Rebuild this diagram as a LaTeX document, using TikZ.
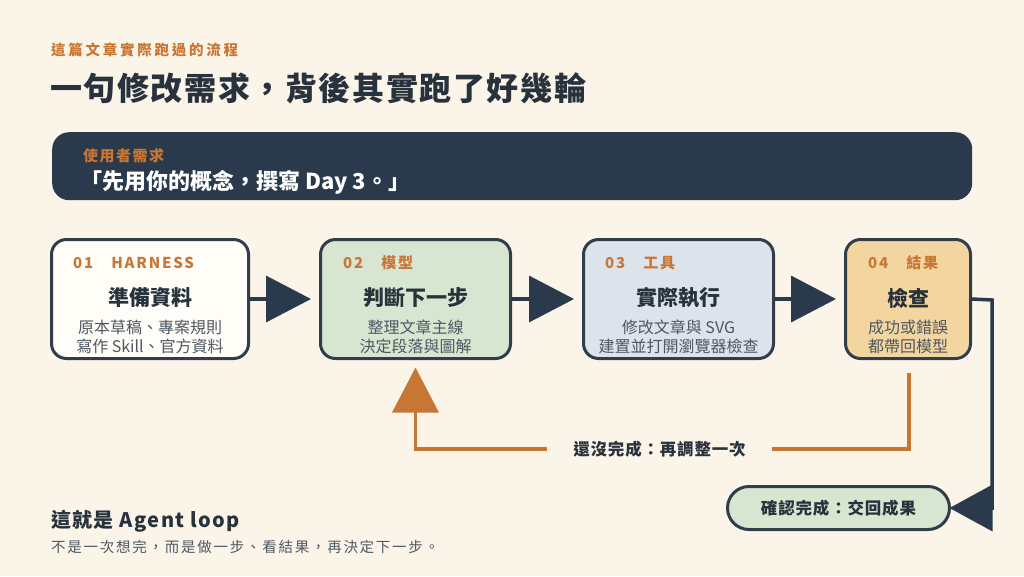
\documentclass[tikz,border=0pt]{standalone}
\usepackage{fontspec}
\setmainfont{Noto Sans CJK TC}
\usetikzlibrary{arrows.meta}
\definecolor{bg}{HTML}{FBF4E9}
\definecolor{navy}{HTML}{2A3A4C}
\definecolor{edge}{HTML}{313D4A}
\definecolor{ink}{HTML}{28323D}
\definecolor{gray}{HTML}{4E5862}
\definecolor{accent}{HTML}{C87634}
\definecolor{fone}{HTML}{FFFDF7}
\definecolor{ftwo}{HTML}{D8E5D1}
\definecolor{fthree}{HTML}{DCE3EB}
\definecolor{ffour}{HTML}{F3D59F}
\newcommand{\fs}[2]{\fontsize{#1}{#2}\selectfont}
\tikzset{
  txt/.style={inner sep=0pt},
  box/.style={draw=edge, line width=3pt, rounded corners=15pt, minimum height=119pt, inner sep=0pt},
  lbl/.style={txt, anchor=west, text=accent, font=\fs{15}{18}\bfseries\addfontfeature{LetterSpace=12}},
  ttl/.style={txt, text=ink, font=\fs{21}{25}\bfseries},
  desc/.style={txt, text=gray, align=center, font=\fs{16}{19}\selectfont},
  dline/.style={draw=navy, line width=3.5pt, -{Triangle[length=45pt,width=46pt]}, shorten >=8pt},
  oline/.style={draw=accent, line width=3.5pt},
}
\begin{document}
\begin{tikzpicture}[x=1pt,y=-1pt]
\fill[bg] (0,0) rectangle (1024,576);
\useasboundingbox (0,0) rectangle (1024,576);

% header
\node[txt, anchor=west, text=accent, font=\fs{14.5}{17}\bfseries\addfontfeature{LetterSpace=19}] (kicker) at (51,50) {這篇文章實際跑過的流程};
\node[txt, anchor=west, text=ink, font=\fs{32}{38}\bfseries\addfontfeature{LetterSpace=5}] (title) at (50,88) {一句修改需求，背後其實跑了好幾輪};

% banner
\node[fill=navy, rounded corners=17pt, minimum width=920pt, minimum height=68pt, inner sep=0pt, anchor=north west] (banner) at (52,132) {};
\node[txt, anchor=west, text=accent, font=\fs{15}{18}\bfseries\addfontfeature{LetterSpace=10}] (reqlbl) at (83,156) {使用者需求};
\node[txt, anchor=west, text=white, font=\fs{22}{26}\bfseries] (req) at (80,182) {「先用你的概念，撰寫 Day 3。」};

% boxes
\node[box, fill=fone, minimum width=197pt] (b1) at (150,299) {};
\node[box, fill=ftwo, minimum width=190pt] (b2) at (415.5,299) {};
\node[box, fill=fthree, minimum width=190pt] (b3) at (678.5,299) {};
\node[box, fill=ffour, minimum width=125pt] (b4) at (908,299) {};

\node[lbl] (l1) at (73,263) {01\hspace{18pt}HARNESS};
\node[lbl] (l2) at (343,263) {02\hspace{18pt}模型};
\node[lbl] (l3) at (605,263) {03\hspace{18pt}工具};
\node[lbl] (l4) at (868,263) {04\hspace{18pt}結果};

\node[ttl] (t1) at (150,298) {準備資料};
\node[ttl] (t2) at (415.5,298) {判斷下一步};
\node[ttl] (t3) at (678.5,298) {實際執行};
\node[ttl] (t4) at (908,298) {檢查};

\node[desc] (d1) at (150,336.5) {原本草稿、專案規則\\寫作 Skill、官方資料};
\node[desc] (d2) at (415.5,336.5) {整理文章主線\\決定段落與圖解};
\node[desc] (d3) at (678.5,336.5) {修改文章與 SVG\\建置並打開瀏覽器檢查};
\node[desc] (d4) at (908,336.5) {成功或錯誤\\都帶回模型};

% forward arrows
\draw[dline] (b1.east) -- (b2.west);
\draw[dline] (b2.east) -- (b3.west);
\draw[dline] (b3.east) -- (b4.west);

% finish
\node[draw=edge, line width=3pt, fill=ftwo, rounded corners=21.5pt, minimum width=222pt, minimum height=43pt, inner sep=0pt, text=ink, font=\fs{16.5}{20}\bfseries\addfontfeature{LetterSpace=5}] (pill) at (838.5,508) {確認完成：交回成果};
\coordinate (c4) at (992,300);
\draw[draw=navy, line width=3.5pt, -{Triangle[length=43pt,width=46pt]}, shorten >=-1.5pt] (b4.east) -- (c4) |- (pill.east);

% loop back
\node[txt, minimum width=225pt, text=ink, font=\fs{16.5}{20}\bfseries\addfontfeature{LetterSpace=5}] (lab) at (659.5,449) {還沒完成：再調整一次};
\coordinate (o1) at (909,373);
\draw[oline] (o1) |- (lab.east);
\draw[oline, -{Triangle[length=45pt,width=46pt]}, shorten >=7.5pt] (lab.west) -| (b2.south);

% footer
\node[txt, anchor=west, text=ink, font=\fs{20}{24}\bfseries\addfontfeature{LetterSpace=7}] (foot) at (51,521) {這就是 Agent loop};
\node[txt, anchor=west, text=gray, font=\fs{14.5}{17}\selectfont\addfontfeature{LetterSpace=12}] (footsub) at (51,547) {不是一次想完，而是做一步、看結果，再決定下一步。};
\end{tikzpicture}
\end{document}
